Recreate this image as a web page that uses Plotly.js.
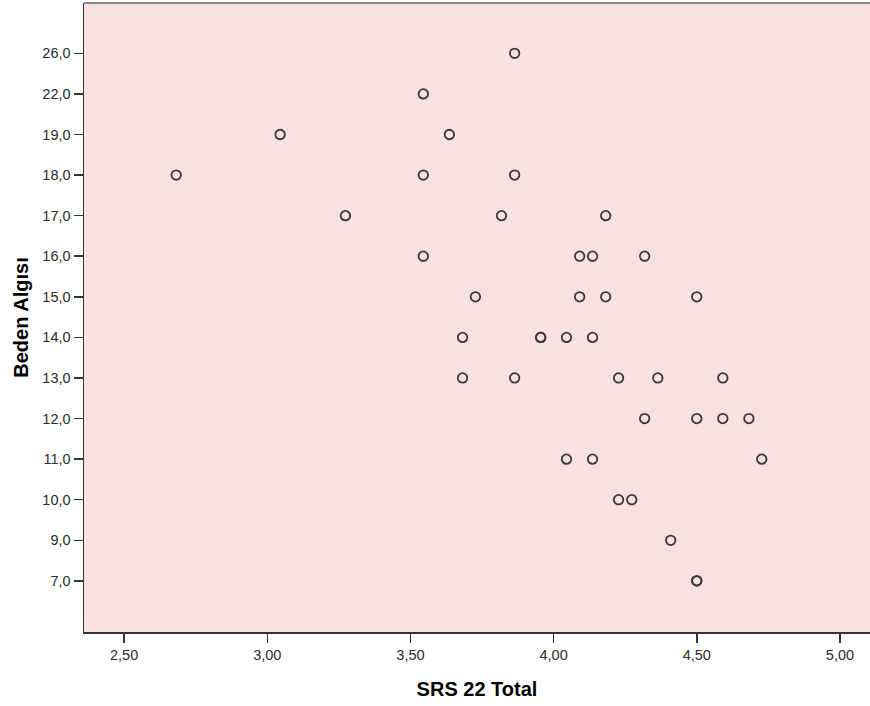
<!DOCTYPE html>
<html>
<head>
<meta charset="utf-8">
<script src="https://cdn.plot.ly/plotly-3.0.1.min.js"></script>
<style>
  html, body { margin: 0; padding: 0; background: #ffffff; }
  #chart { width: 870px; height: 706px; }
</style>
</head>
<body>
<div id="chart"></div>
<script>
// SRS 22 Total scores (x)
const srsTotal = [
  2.682, 3.045, 3.273, 3.545, 3.545, 3.545, 3.636, 3.864, 3.864, 3.818,
  3.727, 3.682, 3.682, 3.864, 3.955, 3.955, 4.045, 4.136, 4.091, 4.136,
  4.182, 4.318, 4.091, 4.182, 4.500, 4.227, 4.364, 4.591, 4.318, 4.500,
  4.591, 4.682, 4.045, 4.136, 4.727, 4.227, 4.273, 4.409, 4.500, 4.500
];
// Beden Algısı values (y)
const bedenAlgisi = [
  18, 19, 17, 22, 18, 16, 19, 26, 18, 17,
  15, 14, 13, 13, 14, 14, 14, 14, 16, 16,
  17, 16, 15, 15, 15, 13, 13, 13, 12, 12,
  12, 12, 11, 11, 11, 10, 10, 9, 7, 7
];
// Category levels present on the y axis (bottom to top)
const yLevels = [7, 9, 10, 11, 12, 13, 14, 15, 16, 17, 18, 19, 22, 26];
const xTickVals = [2.5, 3.0, 3.5, 4.0, 4.5, 5.0];

const fmt1 = v => v.toFixed(1).replace('.', ',');
const fmt2 = v => v.toFixed(2).replace('.', ',');
const yCats = yLevels.map(fmt1);

const trace = {
  type: 'scatter',
  mode: 'markers',
  x: srsTotal,
  y: bedenAlgisi.map(fmt1),
  marker: {
    symbol: 'circle-open',
    size: 9.5,
    color: '#383838',
    line: { width: 1.8, color: '#383838' }
  },
  hoverinfo: 'x+y',
  showlegend: false
};

const tickFont = { family: 'Liberation Sans, Arial, sans-serif', size: 14.5, color: '#2b2b2b' };
const titleFont = { family: 'Liberation Sans, Arial, sans-serif', size: 20, color: '#000000', weight: 'bold' };

const layout = {
  width: 870,
  height: 706,
  margin: { l: 84, r: 0, t: 3, b: 74 },
  paper_bgcolor: '#ffffff',
  plot_bgcolor: '#f9e1e2',
  xaxis: {
    range: [2.36, 5.105],
    tickvals: xTickVals,
    ticktext: xTickVals.map(fmt2),
    ticks: 'outside',
    ticklen: 9,
    tickwidth: 1.5,
    tickcolor: '#333333',
    tickfont: tickFont,
    showgrid: false,
    zeroline: false,
    showline: true,
    linecolor: '#333333',
    linewidth: 1.5,
    title: { text: 'SRS 22 Total', font: titleFont, standoff: 20 },
    automargin: false
  },
  yaxis: {
    type: 'category',
    categoryorder: 'array',
    categoryarray: yCats,
    range: [-1.26, 14.24],
    ticks: 'outside',
    ticklen: 9,
    tickwidth: 1.5,
    tickcolor: '#333333',
    tickfont: tickFont,
    showgrid: false,
    zeroline: false,
    showline: true,
    linecolor: '#333333',
    linewidth: 1.5,
    title: { text: 'Beden Algısı', font: titleFont, standoff: 8 },
    automargin: false
  },
  shapes: [{
    type: 'line', xref: 'paper', yref: 'paper',
    x0: 0, x1: 1, y0: 1, y1: 1,
    line: { color: '#8a8a8a', width: 2 }
  }]
};

Plotly.newPlot('chart', [trace], layout, { displayModeBar: false, staticPlot: true });
</script>
</body>
</html>
